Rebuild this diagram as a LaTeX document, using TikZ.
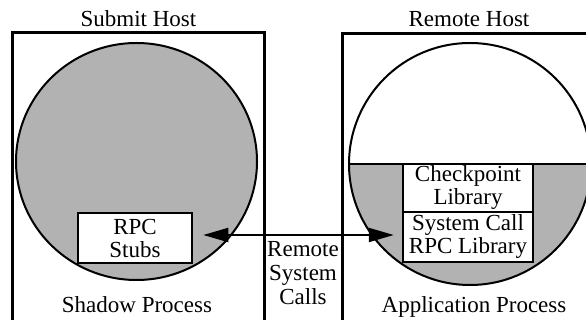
\documentclass[tikz,border=0pt]{standalone}
\usepackage{fontspec}
\setmainfont{Liberation Serif}
\usetikzlibrary{arrows.meta}
\definecolor{procgray}{gray}{0.70}
\tikzset{
  hostbox/.style={draw=black, line width=3pt},
  proc/.style={draw=black, line width=2pt},
  libbox/.style={draw=black, line width=2.5pt, fill=white, inner sep=0pt, align=center,
                 minimum width=130pt, font=\fontsize{23}{23}\selectfont},
  lbl/.style={inner sep=0pt, anchor=base, align=center, font=\fontsize{23}{24}\selectfont},
  arr/.style={line width=2pt, {Triangle[length=25pt,width=14pt]}-{Triangle[length=25pt,width=14pt]}}
}
\begin{document}
\begin{tikzpicture}[x=1pt,y=-1pt]
\useasboundingbox (0,0) rectangle (586,320);
\clip (0,0) rectangle (586,320);
% host boxes
\draw[hostbox] (12,33) rectangle (264,340);
\draw[hostbox] (342,34) rectangle (620,340);
% shadow process
\draw[proc, fill=procgray] (136.5,161.5) ellipse [x radius=120.5, y radius=118.5];
% application process
\begin{scope}
  \clip (470,164) circle [radius=121];
  \fill[white] (340,30) rectangle (600,164);
  \fill[procgray] (340,164) rectangle (600,300);
\end{scope}
\draw[proc] (349,164) -- (591,164);
\draw[proc] (470,164) circle [radius=121];
% inner boxes
\node[libbox, minimum width=114pt, minimum height=50pt] (stubs) at (135,238) {RPC\\Stubs};
\node[libbox, minimum height=48pt] (ckpt) at (468,188) {Checkpoint\\Library};
\node[libbox, minimum height=50pt] (syscall) at (468,237) {System Call\\RPC Library};
% remote system calls arrow
\draw[arr, shorten <=10pt, shorten >=8pt] ([yshift=3pt]stubs.east) -- ([yshift=3pt]stubs.east -| syscall.west);
% labels
\node[lbl] (submit) at (138.5,27) {Submit Host};
\node[lbl] (remote) at (469,27) {Remote Host};
\node[lbl] (shadow) at (137,312) {Shadow Process};
\node[lbl] (app) at (474,312) {Application Process};
\node[lbl, anchor=north] (rsc) at (303,241) {Remote\\System\\Calls};
\end{tikzpicture}
\end{document}
